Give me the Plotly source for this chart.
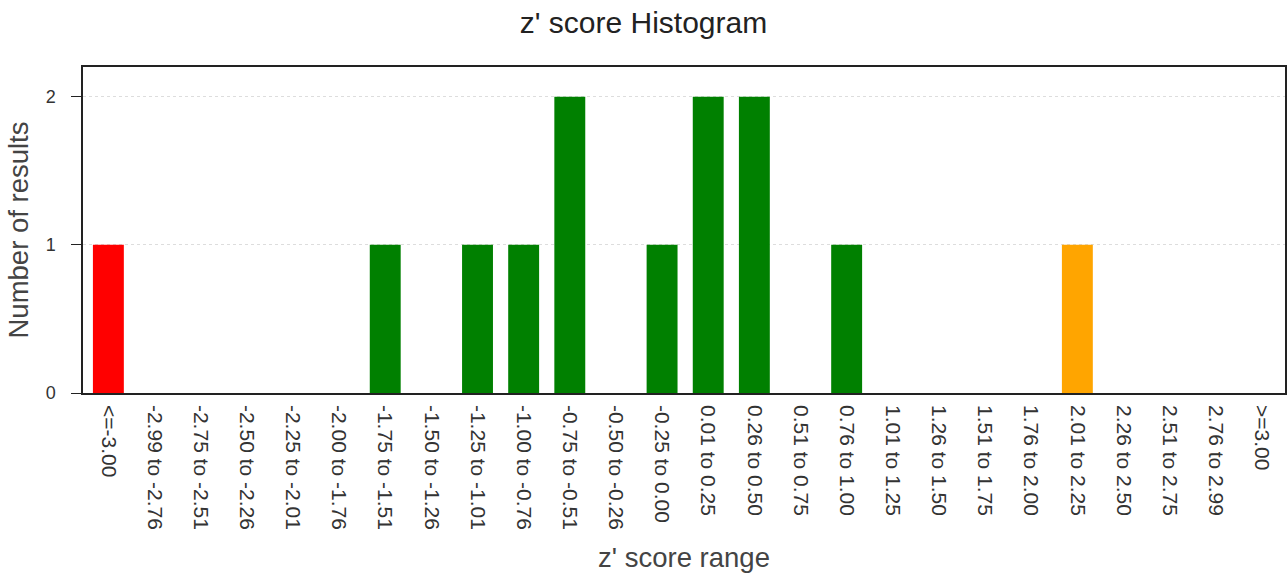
import plotly.graph_objects as go

categories = ["<=-3.00", "-2.99 to -2.76", "-2.75 to -2.51", "-2.50 to -2.26", "-2.25 to -2.01",
              "-2.00 to -1.76", "-1.75 to -1.51", "-1.50 to -1.26", "-1.25 to -1.01", "-1.00 to -0.76",
              "-0.75 to -0.51", "-0.50 to -0.26", "-0.25 to 0.00", "0.01 to 0.25", "0.26 to 0.50",
              "0.51 to 0.75", "0.76 to 1.00", "1.01 to 1.25", "1.26 to 1.50", "1.51 to 1.75",
              "1.76 to 2.00", "2.01 to 2.25", "2.26 to 2.50", "2.51 to 2.75", "2.76 to 2.99", ">=3.00"]
counts = [1, 0, 0, 0, 0, 0, 1, 0, 1, 1, 2, 0, 1, 2, 2, 0, 1, 0, 0, 0, 0, 1, 0, 0, 0, 0]
bar_colors = ["#ff0000", "#ffa500", "#ffa500", "#ffa500", "#ffa500",
              "#008000", "#008000", "#008000", "#008000", "#008000",
              "#008000", "#008000", "#008000", "#008000", "#008000",
              "#008000", "#008000", "#008000", "#008000", "#008000",
              "#008000", "#ffa500", "#ffa500", "#ffa500", "#ffa500", "#ff0000"]

font = "Liberation Sans, Arial, sans-serif"

fig = go.Figure()
fig.add_trace(go.Bar(
    x=list(range(len(categories))), y=counts,
    marker=dict(color=bar_colors, line=dict(width=0)),
    width=0.67,
    hoverinfo="skip",
))

fig.update_layout(
    width=1287, height=577,
    margin=dict(l=83, r=2, t=67, b=184, autoexpand=False),
    paper_bgcolor="white", plot_bgcolor="white",
    showlegend=False,
    title=dict(text="z' score Histogram", x=0.5, xanchor="center", y=1 - 22 / 577, yanchor="middle",
               font=dict(family=font, size=30, color="#222222")),
    font=dict(family=font, color="#333333"),
)

fig.update_xaxes(
    range=[-0.55, 25.5],
    tickmode="array", tickvals=list(range(len(categories))), ticktext=categories,
    tickangle=90, tickfont=dict(size=21, color="#333333"),
    ticks="", showgrid=False, ticklabelstandoff=6,
    showline=True, linecolor="#222222", linewidth=1.5, mirror=True,
    title=dict(text="z' score range", font=dict(size=27.5, color="#444444"), standoff=19),
    fixedrange=True,
)
fig.update_yaxes(
    range=[0, 2.2],
    tickvals=[0, 1, 2], tickfont=dict(size=18, color="#333333"),
    ticks="outside", ticklen=10, tickcolor="#222222", ticklabelstandoff=12,
    showgrid=True, gridcolor="#dddddd", griddash="dot", gridwidth=1,
    zeroline=False,
    showline=True, linecolor="#222222", linewidth=1.5, mirror=True,
    title=dict(text="Number of results", font=dict(size=27.5, color="#444444"), standoff=9),
    fixedrange=True,
)

fig.write_html("out.html", config={"displayModeBar": False},
               post_script="document.body.style.margin='0';document.body.style.overflow='hidden';")
